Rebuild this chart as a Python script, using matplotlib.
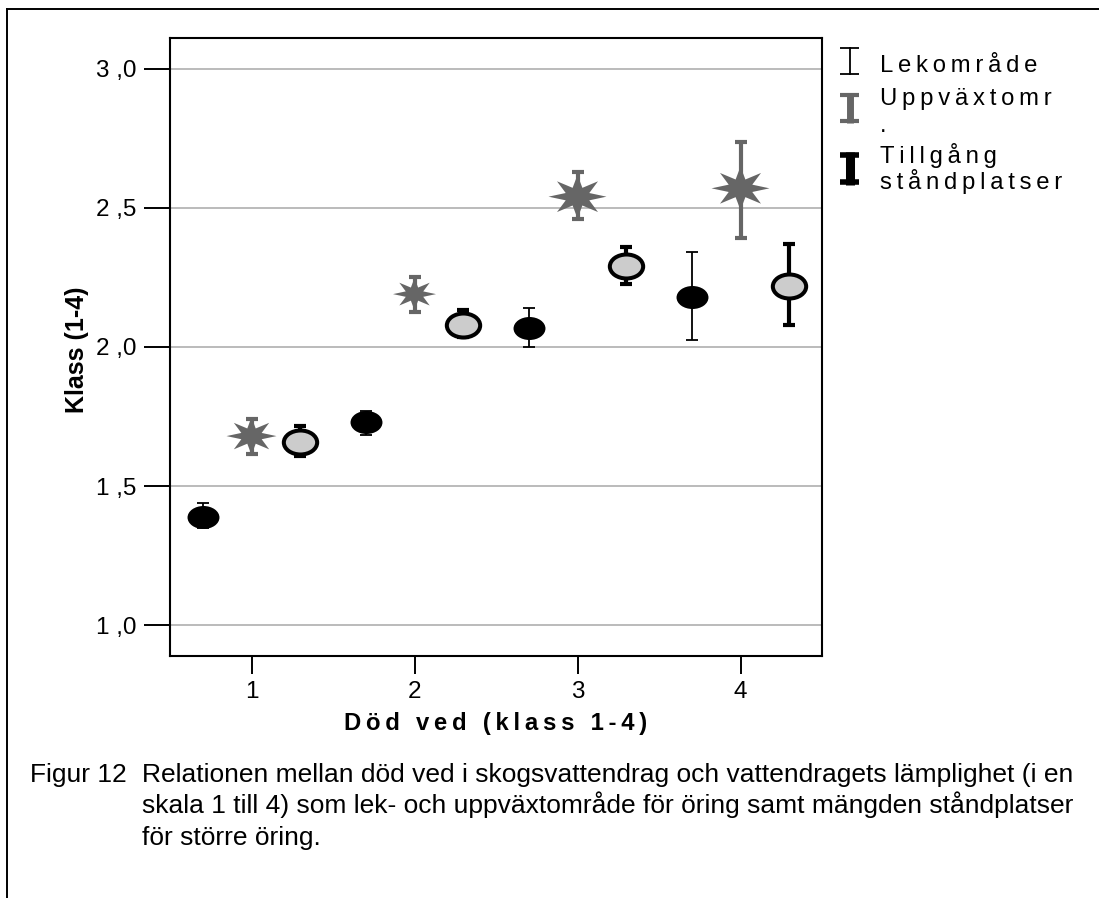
import numpy as np
import matplotlib
matplotlib.use('Agg')
import matplotlib.pyplot as plt
from matplotlib.path import Path
from matplotlib.lines import Line2D

plt.rcParams['font.family'] = ['Liberation Sans', 'DejaVu Sans']

W, H = 1099, 898

# Data: mean and error bar ends per dead wood class
groups = [1, 2, 3, 4]
lek_mean = [1.39, 1.73, 2.07, 2.18]
lek_low = [1.35, 1.685, 2.00, 2.025]
lek_high = [1.44, 1.77, 2.14, 2.34]
upp_mean = [1.68, 2.19, 2.54, 2.57]
upp_low = [1.615, 2.127, 2.46, 2.39]
upp_high = [1.74, 2.253, 2.63, 2.735]
till_mean = [1.66, 2.08, 2.29, 2.22]
till_low = [1.61, 2.035, 2.225, 2.08]
till_high = [1.715, 2.133, 2.36, 2.37]

yticks = [1.0, 1.5, 2.0, 2.5, 3.0]
labels = ['Lekområde', 'Uppväxtomr\n.', 'Tillgång\nståndplatser']
caption = ['Relationen mellan död ved i skogsvattendrag och vattendragets lämplighet (i en',
           'skala 1 till 4) som lek- och uppväxtområde för öring samt mängden ståndplatser',
           'för större öring.']

star_px = [50, 43, 58, 58]   # star widths differ in the original
GRAY = '#666666'


def fx(px):
    return px / W


def fy(py):
    return 1 - py / H


def spaced(s):
    return '\u2009'.join(s)


# marker shapes
circ = Path.unit_circle()
ellipse = Path(circ.vertices * [1, 0.72], circ.codes)
ang = np.arange(16) * np.pi / 8
rad = np.where(np.arange(16) % 2 == 0, 1.0, 0.44)
sv = np.c_[rad * np.cos(ang), 0.75 * rad * np.sin(ang)]
star = Path(np.vstack([sv, sv[:1]]), [Path.MOVETO] + [Path.LINETO] * 15 + [Path.CLOSEPOLY])

fig = plt.figure(figsize=(W / 100, H / 100), dpi=100)
ax = fig.add_axes([fx(170), fy(656), 652 / W, 618 / H])
ax.set_xlim(0.5, 4.5)
ax.set_ylim(0.89, 3.11)

g = np.array(groups, dtype=float)
series = [
    (g - 0.3, np.array(lek_mean), np.array(lek_low), np.array(lek_high), 'black', 1.3),
    (g, np.array(upp_mean), np.array(upp_low), np.array(upp_high), GRAY, 3.0),
    (g + 0.3, np.array(till_mean), np.array(till_low), np.array(till_high), 'black', 3.0),
]
for xs, m, lo, hi, col, lw in series:
    ax.errorbar(xs, m, yerr=[m - lo, hi - m], fmt='none', ecolor=col,
                elinewidth=lw, capsize=4.3, capthick=lw, zorder=3)

ax.plot(series[0][0], lek_mean, ls='none', marker=ellipse, ms=23,
        mfc='black', mec='black', mew=0, zorder=4)
ax.scatter(series[1][0], upp_mean, s=(np.array(star_px) * 0.72) ** 2, marker=star,
           c=GRAY, linewidths=0, zorder=4)
ax.plot(series[2][0], till_mean, ls='none', marker=ellipse, ms=24,
        mfc='#cccccc', mec='black', mew=2.9, zorder=4)

ax.set_yticks(yticks)
ax.set_yticklabels([f"{v:.1f}".replace('.', ' ,') for v in yticks])
ax.set_xticks(groups)
ax.set_xticklabels([str(v) for v in groups])
ax.yaxis.grid(True, color='#a8a8a8', lw=1.1)
ax.set_axisbelow(True)
ax.tick_params(axis='y', length=19, width=1.4, pad=5, labelsize=17.5)
ax.tick_params(axis='x', length=13, width=1.4, pad=5, labelsize=17.5)
for sp in ax.spines.values():
    sp.set_linewidth(1.5)

fig.text(fx(496), fy(730), spaced('Död ved (klass 1-4)'), ha='center', va='baseline',
         fontsize=17.2, fontweight='bold')
fig.text(fx(77), fy(350), 'Klass (1-4)', rotation=90, ha='center', va='center',
         fontsize=18, fontweight='bold')

# legend, drawn by hand as in the original
icons = [(47, 75, 'black', 1.3, 1.3), (93, 123, GRAY, 5.0, 3.0), (152, 185, 'black', 6.5, 4.0)]
baselines = [[72], [105, 132], [163, 189]]
for (yt, yb, col, vlw, clw), lab, bls in zip(icons, labels, baselines):
    xc = 849.5
    fig.add_artist(Line2D([fx(xc), fx(xc)], [fy(yt), fy(yb)], color=col, lw=vlw,
                          solid_capstyle='butt'))
    for yc in (yt + clw * 0.7, yb - clw * 0.7):
        fig.add_artist(Line2D([fx(xc - 9.5), fx(xc + 9.5)], [fy(yc), fy(yc)], color=col,
                              lw=clw, solid_capstyle='butt'))
    for line, bl in zip(lab.split('\n'), bls):
        fig.text(fx(880), fy(bl), spaced(line), va='baseline', fontsize=17.2)

# caption
fig.text(fx(30), fy(781.7), 'Figur 12', va='baseline', fontsize=19)
for line, bl in zip(caption, [781.7, 813.5, 845.3]):
    fig.text(fx(141.7), fy(bl), line, va='baseline', fontsize=19)

# page frame
fig.add_artist(Line2D([fx(7), fx(7)], [0, fy(9)], color='black', lw=1.4))
fig.add_artist(Line2D([fx(7), 1], [fy(9), fy(9)], color='black', lw=1.4))

fig.savefig('out.png', dpi=100)
